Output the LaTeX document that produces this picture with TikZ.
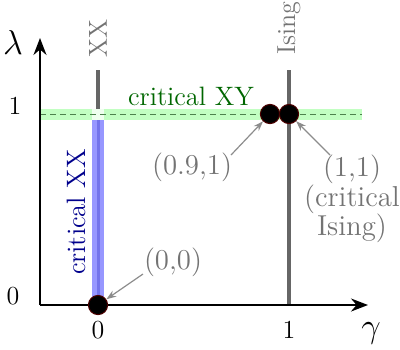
\documentclass[tikz,border=0pt]{standalone}
\usetikzlibrary{arrows.meta}
\begin{document}
\begin{tikzpicture}[x=0.5pt,y=-0.5pt,
  axis/.style={line width=1pt,-{Stealth[length=8.5pt,width=6.5pt]}},
  phase/.style={line width=1.6pt,black!60},
  lbl/.style={text=black!55,font=\fontsize{14.4}{14.6}\selectfont,inner sep=1pt},
  pointer/.style={black!45,line width=0.6pt,-{Stealth[length=5pt,width=3.5pt]}},
  dot/.style={circle,fill=black,draw=red!30!black,line width=0.5pt,minimum size=9.6pt,inner sep=0pt},
  tick/.style={font=\fontsize{13}{14}\selectfont,inner sep=1pt}]
\useasboundingbox (0,0) rectangle (400,349);
% green band
\fill[green!60!white,opacity=0.4] (40,108.5) rectangle (362,119.5);
% blue band
\fill[blue!45,opacity=0.9] (92,120) rectangle (104,305);
\fill[blue!30!black!20!blue!55] (96.5,120) rectangle (99.5,305);
% white patch at crossing
\fill[white,opacity=0.75] (92,108.5) rectangle (104,119.5);
% dashed critical line
\draw[dashed,green!30!black!70,line width=0.5pt,dash pattern=on 3pt off 2pt] (40,114) -- (362,114);
% phase lines
\coordinate (xxtop) at (98,70);
\coordinate (xxbot) at (98,108.5);
\coordinate (istop) at (289,70);
\coordinate (isbot) at (289,305);
\draw[phase] (xxtop) -- (xxbot);
\draw[phase] (istop) -- (isbot);
\node[rotate=90,lbl,font=\fontsize{13}{14}\selectfont] (xxl) at (98,38) {XX};
\node[rotate=90,lbl,font=\fontsize{13}{14}\selectfont] (isl) at (289,28) {Ising};
% axes
\coordinate (o) at (40,305);
\coordinate (ytip) at (40,38);
\coordinate (xtip) at (368,305);
\draw[axis] (o) -- (ytip);
\draw[axis] (o) -- (xtip);
\node[tick,font=\fontsize{18}{19}\selectfont] (lam) at (13,42) {$\lambda$};
\node[tick,font=\fontsize{18}{19}\selectfont] (gam) at (371,333) {$\gamma$};
\node[tick] (y1) at (15,106) {1};
\node[tick] (y0) at (13,296) {0};
\node[tick] (x0) at (98,330) {0};
\node[tick] (x1) at (289,330) {1};
% labels
\node[text=green!40!black,font=\fontsize{13.3}{14}\selectfont] (cxy) at (191,96) {critical XY};
\node[rotate=90,text=blue!55!black,font=\fontsize{13.3}{14}\selectfont] (cxx) at (76,212) {critical XX};
% dots
\node[dot] (p09) at (270,114) {};
\node[dot] (p11) at (289,114) {};
\node[dot] (p00) at (98,305) {};
% annotations
\node[lbl] (a09) at (192,167) {(0.9,1)};
\node[lbl,align=center] (a11) at (352,199) {(1,1)\\(critical\\Ising)};
\node[lbl] (a00) at (173,262) {(0,0)};
\coordinate (s09) at (231,155);
\coordinate (s11) at (330,155);
\coordinate (s00) at (143,274);
\draw[pointer] (s09) -- (p09);
\draw[pointer] (s11) -- (p11);
\draw[pointer] (s00) -- (p00);
\end{tikzpicture}
\end{document}
